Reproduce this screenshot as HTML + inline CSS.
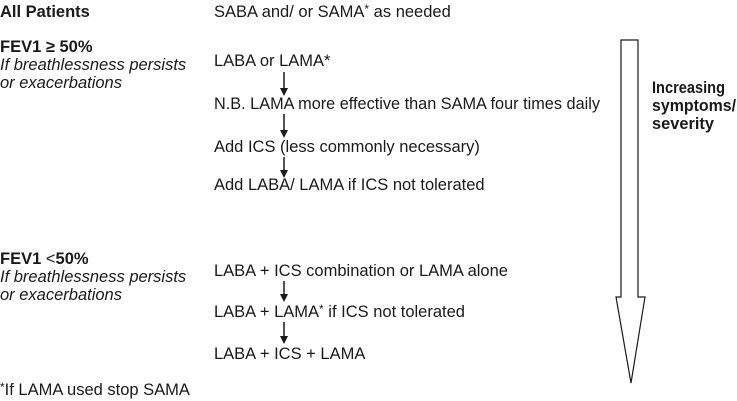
<!DOCTYPE html>
<html><head><meta charset="utf-8"><style>
html,body{margin:0;padding:0;background:#fff;}
svg{display:block;font-family:"Liberation Sans",Arial,sans-serif;font-size:16.5px;fill:#1a1a1a;}
.b{font-weight:bold;}
.i{font-style:italic;}
</style></head><body>
<svg width="737" height="401" viewBox="0 0 737 401" xmlns="http://www.w3.org/2000/svg">
<text x="0" y="17" class="b">All Patients</text>
<text x="214" y="17">SABA and/ or SAMA<tspan dy="-4" font-size="12">*</tspan><tspan dy="4"> as needed</tspan></text>

<text x="0" y="52" class="b">FEV1 ≥ 50%</text>
<text x="0" y="70" class="i">If breathlessness persists</text>
<text x="0" y="88" class="i">or exacerbations</text>

<text x="214" y="66">LABA or LAMA*</text>
<text x="214" y="109" textLength="386" lengthAdjust="spacingAndGlyphs">N.B. LAMA more effective than SAMA four times daily</text>
<text x="214" y="152">Add ICS (less commonly necessary)</text>
<text x="214" y="190">Add LABA/ LAMA if ICS not tolerated</text>

<g stroke="#1a1a1a" stroke-width="1.5">
<line x1="284" y1="72" x2="284" y2="89"/>
<line x1="284" y1="114" x2="284" y2="131"/>
<line x1="284" y1="157" x2="284" y2="171"/>
<line x1="284" y1="281" x2="284" y2="295"/>
<line x1="284" y1="322" x2="284" y2="337"/>
</g>
<g fill="#1a1a1a">
<path d="M280,88 L288,88 L284,96 Z"/>
<path d="M280,130 L288,130 L284,138 Z"/>
<path d="M280,170 L288,170 L284,178 Z"/>
<path d="M280,294 L288,294 L284,302 Z"/>
<path d="M280,336 L288,336 L284,344 Z"/>
</g>

<text x="0" y="264"><tspan class="b">FEV1</tspan> &lt;<tspan class="b">50%</tspan></text>
<text x="0" y="282" class="i">If breathlessness persists</text>
<text x="0" y="300" class="i">or exacerbations</text>

<text x="214" y="276">LABA + ICS combination or LAMA alone</text>
<text x="214" y="317">LABA + LAMA<tspan dy="-4" font-size="12">*</tspan><tspan dy="4"> if ICS not tolerated</tspan></text>
<text x="214" y="359">LABA + ICS + LAMA</text>

<text x="0" y="395"><tspan dy="-4" font-size="12">*</tspan><tspan dy="4">If LAMA used stop SAMA</tspan></text>

<path d="M621,40 L638,40 L638,297 L645,297 L631,383 L616,297 L621,297 Z" fill="#fff" stroke="#1a1a1a" stroke-width="1.2"/>

<text x="652" y="93" class="b" textLength="73" lengthAdjust="spacingAndGlyphs">Increasing</text>
<text x="652" y="111" class="b" textLength="84" lengthAdjust="spacingAndGlyphs">symptoms/</text>
<text x="652" y="129" class="b" textLength="62" lengthAdjust="spacingAndGlyphs">severity</text>
</svg>
</body></html>
